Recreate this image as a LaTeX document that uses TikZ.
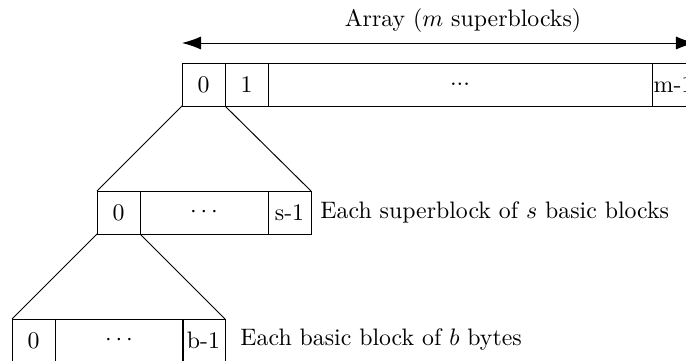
\documentclass[tikz,border=0pt]{standalone}
\usetikzlibrary{arrows.meta}
\begin{document}
\begin{tikzpicture}[x=0.42pt,y=-0.42pt,
  cell/.style={draw,line width=0.4pt,inner sep=0pt,outer sep=0pt,minimum height=18.06pt,minimum width=18.06pt,anchor=north west},
  wide/.style={cell,minimum width=#1},
  conn/.style={line width=0.4pt},
  lbl/.style={anchor=west,inner sep=0pt}]
\useasboundingbox (0,0) rectangle (686,361);
\clip (0,0) rectangle (686,361);
% top array
\node[cell] (t0) at (182,63) {0};
\node[cell] (t1) at (225,63) {1};
\node[wide=161.28pt] (td) at (268,63) {...};
\node[cell] (tm) at (652,63) {m-1};
\coordinate (al) at (182,43);
\coordinate (ar) at (695,43);
\draw[conn,{Latex[length=8pt,width=5.5pt]}-{Latex[length=8pt,width=5.5pt]}] (al) -- (ar);
\node (atext) at (463,21) {Array ($m$ superblocks)};
% middle
\node[cell] (m0) at (97,191) {0};
\node[wide=53.76pt] (md) at (140,191) {$\cdots$};
\node[cell] (ms) at (268,191) {s-1};
\node[lbl] (mtext) at (320,212) {Each superblock of $s$ basic blocks};
% bottom
\node[cell] (b0) at (12,319) {0};
\node[wide=53.76pt] (bd) at (55,319) {$\cdots$};
\node[cell] (bb) at (182,319) {b-1};
\node[lbl] (btext) at (240,340) {Each basic block of $b$ bytes};
% connectors
\draw[conn] (t0.south west) -- (m0.north west);
\draw[conn] (t0.south east) -- (ms.north east);
\draw[conn] (m0.south west) -- (b0.north west);
\draw[conn] (m0.south east) -- (bb.north east);
\end{tikzpicture}
\end{document}
